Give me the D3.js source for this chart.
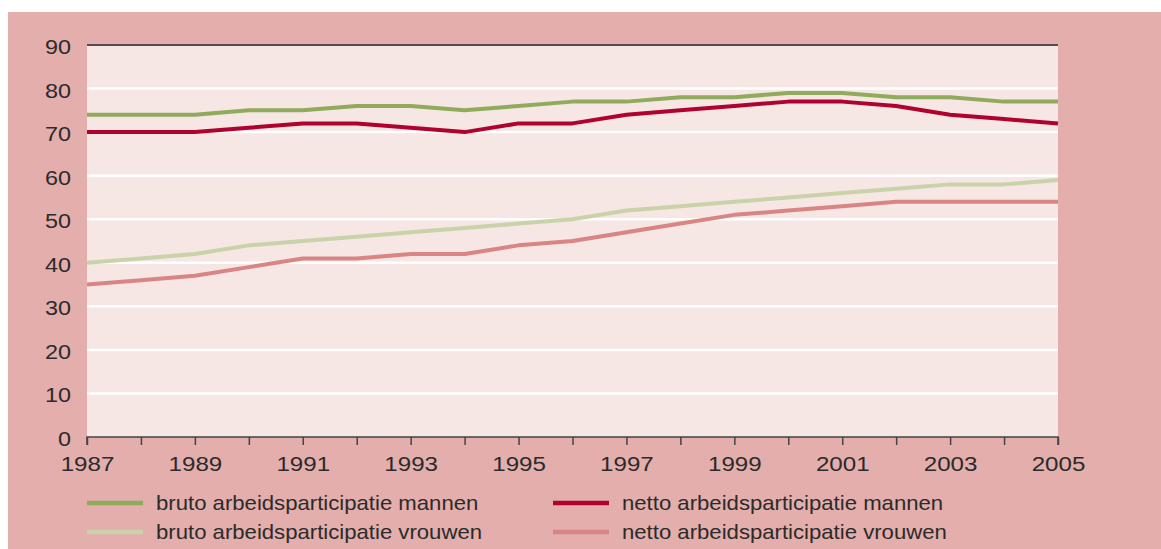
<!DOCTYPE html>
<html><head><meta charset="utf-8">
<script src="https://cdn.jsdelivr.net/npm/d3@7"></script>
<style>html,body{margin:0;padding:0;background:#fff;}svg{display:block;}</style>
</head><body>
<svg id="c" width="1161" height="549"></svg>
<script>
const years = [1987,1988,1989,1990,1991,1992,1993,1994,1995,1996,1997,1998,1999,2000,2001,2002,2003,2004,2005];
const brutoMannen  = [74,74,74,75,75,76,76,75,76,77,77,78,78,79,79,78,78,77,77];
const nettoMannen  = [70,70,70,71,72,72,71,70,72,72,74,75,76,77,77,76,74,73,72];
const brutoVrouwen = [40,41,42,44,45,46,47,48,49,50,52,53,54,55,56,57,58,58,59];
const nettoVrouwen = [35,36,37,39,41,41,42,42,44,45,47,49,51,52,53,54,54,54,54];
const yTicks = [0,10,20,30,40,50,60,70,80,90];
const xTickLabels = [1987,1989,1991,1993,1995,1997,1999,2001,2003,2005];
const seriesNames = ["bruto arbeidsparticipatie mannen","netto arbeidsparticipatie mannen","bruto arbeidsparticipatie vrouwen","netto arbeidsparticipatie vrouwen"];
const seriesColors = ["#8fab5b","#b0022f","#c9d3a9","#d98583"];
const seriesData = [brutoMannen, nettoMannen, brutoVrouwen, nettoVrouwen];

const svg = d3.select("#c");
const font = "'Liberation Sans', Arial, sans-serif";
const txt = "#2b2b2b";
svg.append("rect").attr("x",8).attr("y",12).attr("width",1153).attr("height",537).attr("fill","#e3aeab");

const L=87,R=1058,T=45,B=437;
const x = d3.scaleLinear().domain([1987,2005]).range([L,R]);
const y = d3.scaleLinear().domain([0,90]).range([B,T]);

svg.append("rect").attr("x",L).attr("y",T).attr("width",R-L).attr("height",B-T).attr("fill","#f6e6e4");

svg.append("g").selectAll("line").data(yTicks.filter(d=>d>0&&d<90)).join("line")
  .attr("x1",L).attr("x2",R).attr("y1",d=>y(d)).attr("y2",d=>y(d))
  .attr("stroke","#ffffff").attr("stroke-width",2.5);
svg.append("line").attr("x1",L).attr("x2",R).attr("y1",y(90)).attr("y2",y(90)).attr("stroke","#594a4a").attr("stroke-width",2);

// y labels
svg.append("g").selectAll("text").data(yTicks).join("text")
  .attr("transform",d=>`translate(71,${y(d)+2}) scale(1.2,1)`)
  .attr("dy","0.36em").attr("text-anchor","end")
  .attr("font-family",font).attr("font-size",19.5).attr("fill",txt).text(d=>d);

// x axis
const xAxis = d3.axisBottom(x).tickValues(years).tickSize(8).tickFormat(d=>xTickLabels.includes(d)?d:"");
const gx = svg.append("g").attr("transform",`translate(0,${B})`).call(xAxis);
gx.select(".domain").attr("stroke","#444").attr("stroke-width",1.5).attr("d",`M${L},8V0H${R}V8`);
gx.selectAll(".tick line").attr("stroke","#444").attr("stroke-width",1.5);
gx.selectAll(".tick text").attr("font-family",font).attr("font-size",21).attr("fill",txt)
  .attr("dy",0).attr("y",34.5).attr("transform","scale(1.15,1)");

// lines
const line = d3.line().x((d,i)=>x(years[i])).y(d=>y(d));
[2,3,0,1].forEach(k=>{
  svg.append("path").datum(seriesData[k]).attr("d",line).attr("fill","none")
    .attr("stroke",seriesColors[k]).attr("stroke-width",4).attr("stroke-linejoin","round");
});

// legend
const legPos = [[87,503],[553,503],[87,532],[553,532]];
seriesNames.forEach((n,k)=>{
  const [lx,ly]=legPos[k];
  svg.append("line").attr("x1",lx).attr("x2",lx+56).attr("y1",ly).attr("y2",ly).attr("stroke",seriesColors[k]).attr("stroke-width",4.5);
  svg.append("text").attr("transform",`translate(${lx+69},${ly}) scale(1.08,1)`).attr("dy","0.35em")
    .attr("font-family",font).attr("font-size",20.5).attr("fill",txt).text(n);
});
</script>
</body></html>
